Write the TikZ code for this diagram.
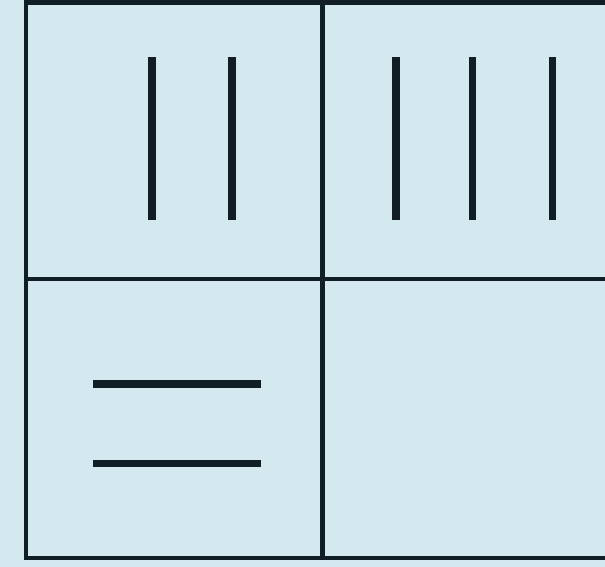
\documentclass[tikz,border=0pt]{standalone}
\definecolor{bgblue}{RGB}{211,233,239}
\definecolor{ink}{RGB}{18,30,38}
\begin{document}
\begin{tikzpicture}[x=1pt,y=-1pt,
  frame/.style={draw=ink,line width=4.5pt},
  tally/.style={draw=ink,line width=7.5pt,line cap=butt}]
\useasboundingbox (0,0) rectangle (605,567);
\clip (0,0) rectangle (605,567);
\fill[bgblue] (0,0) rectangle (605,567);
% outer frame (right edge beyond picture)
\draw[frame] (612,2.5) -- (26,2.5) -- (26,558) -- (612,558);
% dividers
\draw[frame] (322.5,2.5) -- (322.5,558);
\draw[frame] (26,279) -- (612,279);
% top-left: two vertical strokes
\draw[tally] (152,57) -- (152,220);
\draw[tally] (232,57) -- (232,220);
% top-right: three vertical strokes
\draw[tally] (396,57) -- (396,220);
\draw[tally] (472.5,57) -- (472.5,220);
\draw[tally] (552.5,57) -- (552.5,220);
% bottom-left: two horizontal strokes
\draw[tally] (93,384) -- (261,384);
\draw[tally] (93,463.5) -- (261,463.5);
\end{tikzpicture}
\end{document}
